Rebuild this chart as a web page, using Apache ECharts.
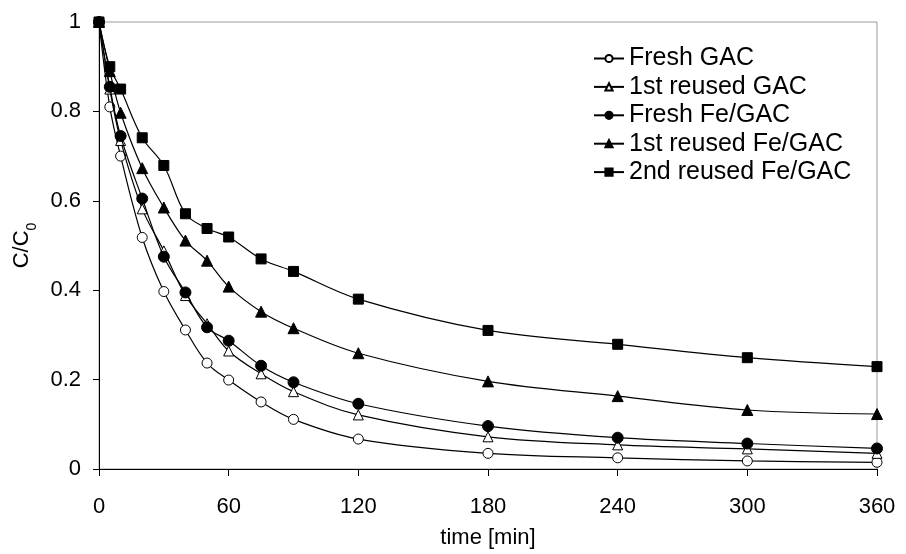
<!DOCTYPE html>
<html>
<head>
<meta charset="utf-8">
<script src="https://cdn.jsdelivr.net/npm/echarts@6/dist/echarts.min.js"></script>
<style>
  html, body { margin: 0; padding: 0; background: #fff; }
  #chart { width: 906px; height: 554px; }
</style>
</head>
<body>
<div id="chart"></div>
<script>
// ---- data ----
const times = [0, 5, 10, 20, 30, 40, 50, 60, 75, 90, 120, 180, 240, 300, 360];
const seriesNames = ['Fresh GAC', '1st reused GAC', 'Fresh Fe/GAC', '1st reused Fe/GAC', '2nd reused Fe/GAC'];
const freshGAC        = [1.0, 0.81, 0.70, 0.518, 0.397, 0.311, 0.237, 0.199, 0.150, 0.111, 0.067, 0.035, 0.025, 0.018, 0.015];
const reused1GAC      = [1.0, 0.85, 0.735, 0.582, 0.488, 0.388, 0.325, 0.264, 0.213, 0.173, 0.121, 0.072, 0.054, 0.045, 0.035];
const freshFeGAC      = [1.0, 0.855, 0.745, 0.605, 0.475, 0.395, 0.317, 0.287, 0.231, 0.194, 0.146, 0.096, 0.070, 0.057, 0.046];
const reused1FeGAC    = [1.0, 0.89, 0.797, 0.673, 0.585, 0.511, 0.466, 0.408, 0.352, 0.315, 0.259, 0.196, 0.163, 0.132, 0.123];
const reused2FeGAC    = [1.0, 0.90, 0.850, 0.741, 0.679, 0.571, 0.538, 0.519, 0.470, 0.442, 0.380, 0.310, 0.279, 0.249, 0.229];
const xTicks = [0, 60, 120, 180, 240, 300, 360];
const yTicks = [0, 0.2, 0.4, 0.6, 0.8, 1];

const allValues = [freshGAC, reused1GAC, freshFeGAC, reused1FeGAC, reused2FeGAC];
const symbols = ['circle', 'triangle', 'circle', 'triangle', 'rect'];
const fills = ['#ffffff', '#ffffff', '#000000', '#000000', '#000000'];
const sizes = [10, 10, 11, 11, 10];

const FONT = '"Liberation Sans", Arial, sans-serif';

const chart = echarts.init(document.getElementById('chart'), null, { renderer: 'canvas' });

const series = seriesNames.map((name, i) => ({
  name: name,
  type: 'line',
  data: times.map((t, j) => [t, allValues[i][j]]),
  smooth: 0.35,
  symbol: symbols[i],
  symbolSize: sizes[i],
  showAllSymbol: true,
  lineStyle: { color: '#000', width: 1.2 },
  itemStyle: { color: fills[i], borderColor: '#000', borderWidth: 1, opacity: 1 },
  emphasis: { disabled: true },
  animation: false,
  z: 2 + i
}));

chart.setOption({
  animation: false,
  backgroundColor: '#fff',
  textStyle: { fontFamily: FONT },
  grid: {
    left: 99, right: 29, top: 22, bottom: 85,
    show: true, borderColor: '#9a9a9a', borderWidth: 1, backgroundColor: 'transparent'
  },
  legend: {
    orient: 'vertical',
    left: 588, top: 41,
    itemWidth: 30, itemHeight: 9,
    itemGap: 3.4,
    textStyle: { fontFamily: FONT, fontSize: 25, color: '#000', lineHeight: 25 },
    data: seriesNames
  },
  xAxis: {
    type: 'value',
    min: 0, max: 360, interval: 60,
    name: 'time [min]',
    nameLocation: 'middle',
    nameGap: 58,
    nameTextStyle: { fontFamily: FONT, fontSize: 22, color: '#000' },
    axisLine: { show: true, onZero: false, lineStyle: { color: '#000', width: 1 } },
    axisTick: { show: true, inside: false, length: 7, lineStyle: { color: '#000' } },
    axisLabel: {
      fontFamily: FONT, fontSize: 22, color: '#000', margin: 27,
      formatter: v => (xTicks.indexOf(v) >= 0 ? String(v) : '')
    },
    splitLine: { show: false }
  },
  yAxis: {
    type: 'value',
    min: 0, max: 1, interval: 0.2,
    name: 'C/C{s|0}',
    nameLocation: 'middle',
    nameRotate: 90,
    nameGap: 65,
    nameTextStyle: {
      fontFamily: FONT, fontSize: 22, color: '#000',
      rich: { s: { fontFamily: FONT, fontSize: 14, color: '#000', verticalAlign: 'bottom', padding: [0, 0, -7, 0] } }
    },
    axisLine: { show: true, onZero: false, lineStyle: { color: '#000', width: 1 } },
    axisTick: { show: true, inside: false, length: 6, lineStyle: { color: '#000' } },
    axisLabel: {
      fontFamily: FONT, fontSize: 22, color: '#000', margin: 18,
      formatter: v => {
        const t = yTicks.find(y => Math.abs(y - v) < 1e-9);
        return t === undefined ? '' : String(Math.round(t * 10) / 10);
      }
    },
    splitLine: { show: false }
  },
  series: series
});
</script>
</body>
</html>
